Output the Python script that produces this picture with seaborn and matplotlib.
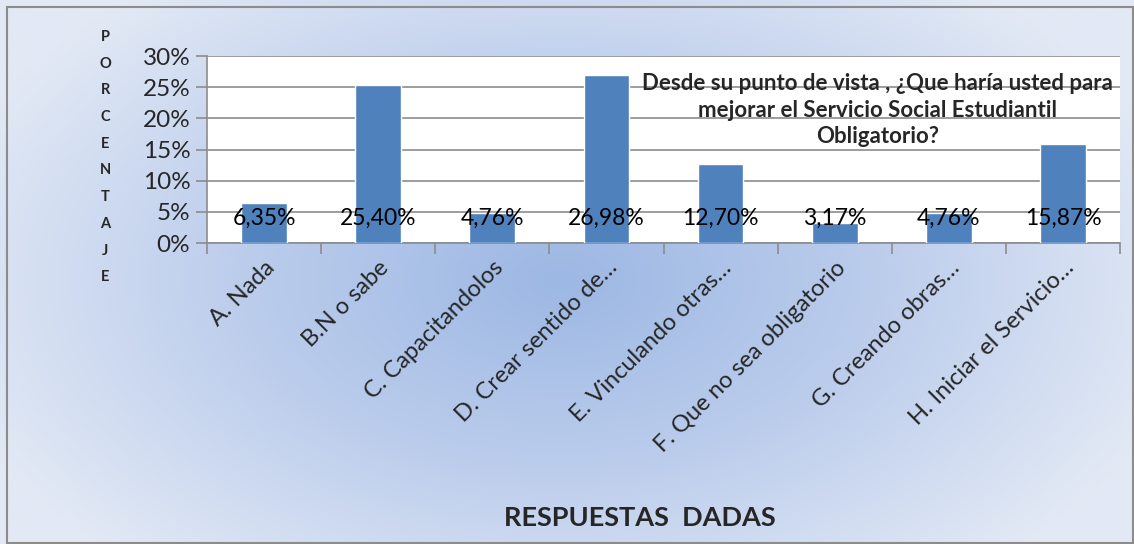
import numpy as np
import pandas as pd
import matplotlib
matplotlib.use("Agg")
import matplotlib.pyplot as plt
from matplotlib.colors import LinearSegmentedColormap
from matplotlib.patches import Rectangle
from matplotlib.ticker import PercentFormatter
import seaborn as sns

categories = [
    "A. Nada",
    "B.N o sabe",
    "C. Capacitandolos",
    "D. Crear sentido de…",
    "E. Vinculando otras…",
    "F. Que no sea obligatorio",
    "G. Creando obras…",
    "H. Iniciar el Servicio…",
]
percentages = [6.35, 25.40, 4.76, 26.98, 12.70, 3.17, 4.76, 15.87]
value_labels = ["6,35%", "25,40%", "4,76%", "26,98%", "12,70%", "3,17%", "4,76%", "15,87%"]
y_ticks = [0, 5, 10, 15, 20, 25, 30]
title = "Desde su punto de vista , ¿Que haría usted para\nmejorar el Servicio Social Estudiantil\nObligatorio?"
x_title = "RESPUESTAS  DADAS"
y_title = "PORCENTAJE"

df = pd.DataFrame({"respuesta": categories, "porcentaje": percentages})

sns.set_theme(style="white")
plt.rcParams["font.family"] = ["Lato", "DejaVu Sans"]

fig = plt.figure(figsize=(11.34, 5.44), dpi=100)

# radial gradient background
bg = fig.add_axes([0, 0, 1, 1], zorder=-10)
xx, yy = np.meshgrid(np.linspace(0, 1134, 400), np.linspace(0, 544, 200))
dist = np.sqrt(((xx - 560) / 640) ** 2 + ((yy - 280) / 380) ** 2)
dist = np.clip(dist, 0, 1)
cmap = LinearSegmentedColormap.from_list("bg", ["#9db8e4", "#bccdec", "#e2e9f5"])
bg.imshow(dist, cmap=cmap, aspect="auto", extent=[0, 1134, 544, 0])
bg.set_xlim(0, 1134)
bg.set_ylim(544, 0)
bg.axis("off")
bg.add_patch(Rectangle((7, 7), 1126, 536, fill=False, edgecolor="#8c8c8c", linewidth=1.5))

ax = fig.add_axes([207 / 1134, 1 - 243 / 544, (1120 - 207) / 1134, (243 - 56) / 544])
ax.set_facecolor("white")
sns.barplot(data=df, x="respuesta", y="porcentaje", color="#4f81bd", width=0.4,
            saturation=1, ax=ax, zorder=3)

ax.set_ylim(0, 30)
ax.set_yticks(y_ticks)
ax.yaxis.set_major_formatter(PercentFormatter(decimals=0))
ax.grid(axis="y", color="#8c8c8c", linewidth=1.2, zorder=0)
ax.set_axisbelow(True)
for side in ["top", "right"]:
    ax.spines[side].set_visible(False)
for side in ["left", "bottom"]:
    ax.spines[side].set_color("#8c8c8c")
    ax.spines[side].set_linewidth(1.2)

ax.tick_params(axis="y", length=8, width=1.2, color="#8c8c8c", labelsize=17.5, pad=4, direction="out", left=True)
ax.set_xticks(np.arange(len(categories)))
ax.set_xticklabels(categories, rotation=45, ha="right", rotation_mode="anchor", fontsize=17)
ax.tick_params(axis="x", length=0, pad=10)
ax.set_xticks(np.arange(len(categories) + 1) - 0.5, minor=True)
ax.tick_params(axis="x", which="minor", length=8, width=1.2, color="#8c8c8c", bottom=True)
ax.set_xlim(-0.5, len(categories) - 0.5)
ax.set_xlabel("")
ax.set_ylabel("")

for i, lab in enumerate(value_labels):
    ax.text(i, 4.0, lab, ha="center", va="center", fontsize=16.5, color="black", zorder=5)

ax.text(0.734, 0.711, title, transform=ax.transAxes, ha="center", va="center",
        fontsize=16, fontweight="bold", linespacing=1.3, zorder=6)

fig.text(640 / 1134, 1 - 518 / 544, x_title, ha="center", va="center", fontsize=19.5, fontweight="bold")

for k, letter in enumerate(y_title):
    fig.text(105 / 1134, 1 - (37 + k * 26.7) / 544, letter, ha="center", va="center",
             fontsize=10.5, fontweight="bold")

fig.savefig("out.png", dpi=100)
